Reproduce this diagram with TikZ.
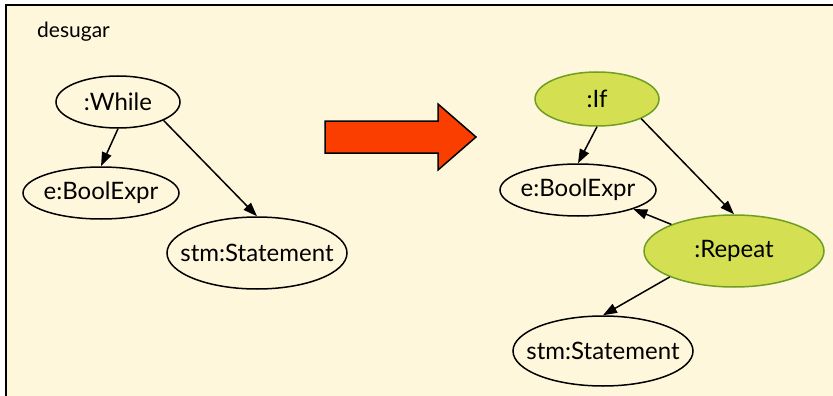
\documentclass[tikz,border=0pt]{standalone}
\usepackage{fontspec}
\setmainfont{Lato}
\usetikzlibrary{shapes.geometric,arrows.meta}
\definecolor{paper}{HTML}{FFF7DC}
\definecolor{newnode}{HTML}{D4E052}
\definecolor{newline}{HTML}{6E9E22}
\definecolor{bigarrow}{HTML}{F93E00}
\begin{document}
\begin{tikzpicture}[x=1pt,y=-1pt,
        obj/.style={ellipse,draw,line width=1.5pt,inner xsep=-20pt,inner ysep=0pt,font=\fontsize{24}{26}\selectfont},
        newobj/.style={obj,fill=newnode,draw=newline},
        link/.style={-{Triangle[length=14pt,width=10pt]},line width=1.5pt}]
        \useasboundingbox (0,0) rectangle (833,396);
        \draw[fill=paper,line width=2pt] (6,5) rectangle (845,410);
        \node[anchor=west,inner sep=0pt,font=\fontsize{21}{24}\selectfont] (title) at (37,32) {desugar};

        % before
        \node[obj,minimum width=124,minimum height=52] (while) at (118,102) {:While};
        \node[obj,minimum width=156,minimum height=52] (cond1) at (101,193) {e:BoolExpr};
        \node[obj,minimum width=180,minimum height=72] (body1) at (257,253) {stm:Statement};
        \draw[link] (while.south) -- (cond1.north);
        \draw[link] (while.-22) -- (body1.north);

        % the rewrite
        \draw[fill=bigarrow,line width=1.5pt] (325,121) -- (438,121) -- (438,104) -- (476,137)
            -- (438,170) -- (438,153) -- (325,153) -- cycle;

        % after
        \node[newobj,minimum width=124,minimum height=54] (if) at (597,99) {:If};
        \node[obj,minimum width=156,minimum height=52] (cond2) at (578,190) {e:BoolExpr};
        \node[newobj,minimum width=180,minimum height=72] (repeat) at (734,251) {:Repeat};
        \node[obj,minimum width=180,minimum height=70] (body2) at (603,351) {stm:Statement};
        \draw[link] (if.south) -- (cond2.north);
        \draw[link] (if.-24) -- (repeat.north);
        \draw[link] (repeat.157) -- (cond2.-19);
        \draw[link] (repeat.-158) -- (body2.north);
    \end{tikzpicture}
\end{document}
